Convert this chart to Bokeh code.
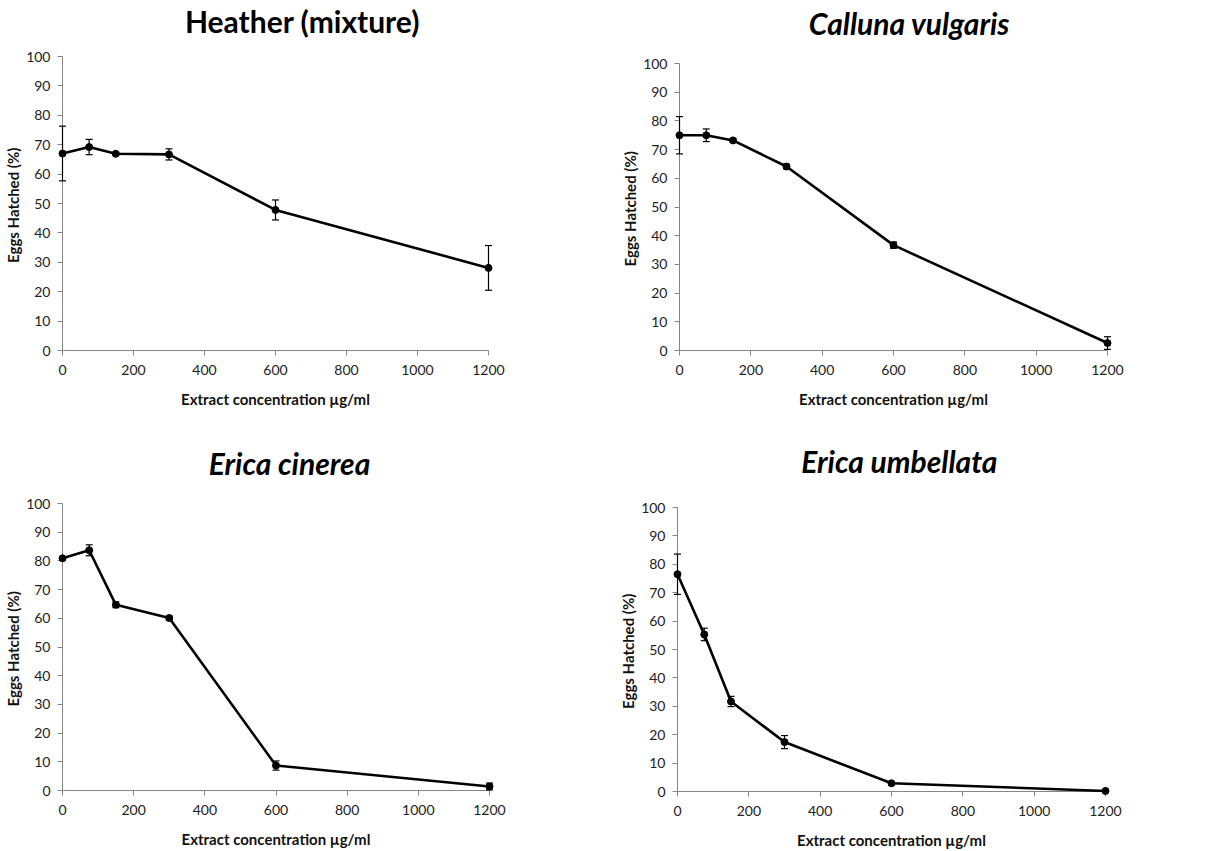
from bokeh.plotting import figure
from bokeh.layouts import column, row
from bokeh.models import Range1d, FixedTicker, ColumnDataSource
from bokeh.core.properties import value
from bokeh.embed import file_html
from bokeh.resources import INLINE

conc = [0, 75, 150, 300, 600, 1200]

titles = ["Heather (mixture)", "Calluna vulgaris", "Erica cinerea", "Erica umbellata"]
title_italic = [False, True, True, True]

heather = [67.0, 69.2, 66.9, 66.7, 47.8, 28.1]
heather_err = [9.3, 2.6, 0.5, 1.9, 3.4, 7.6]
calluna = [75.0, 75.0, 73.2, 64.1, 36.7, 2.6]
calluna_err = [6.5, 2.2, 0.5, 0.8, 1.1, 2.2]
cinerea = [80.9, 83.7, 64.7, 60.1, 8.7, 1.4]
cinerea_err = [0.5, 1.9, 1.0, 0.7, 1.6, 1.2]
umbellata = [76.5, 55.3, 31.7, 17.4, 2.9, 0.2]
umbellata_err = [7.1, 2.2, 1.8, 2.3, 0.6, 0.2]

x_ticks = [0, 200, 400, 600, 800, 1000, 1200]
y_ticks = [0, 10, 20, 30, 40, 50, 60, 70, 80, 90, 100]
x_label = "Extract concentration µg/ml"
y_label = "Eggs Hatched  (%)"

FONT = "Lato"
AXIS_COL = "#868686"

# (width, height, left, right, top, bottom, title_x_data, title_y_data)
layouts = [
    (607, 425, 62, 119, 56, 75, 676, 112.0),
    (607, 425, 72, 107, 63, 75, 645, 114.2),
    (607, 426, 62, 118, 78, 61, 638, 114.2),
    (607, 426, 70, 109, 82, 59, 622, 116.5),
]

series = [(heather, heather_err), (calluna, calluna_err),
          (cinerea, cinerea_err), (umbellata, umbellata_err)]


def make_panel(i):
    w, h, bl, br, bt, bb, tx, ty = layouts[i]
    vals, errs = series[i]
    p = figure(width=w, height=h, output_backend="svg", toolbar_location=None,
               x_range=Range1d(0, 1200), y_range=Range1d(0, 100),
               min_border_left=bl, min_border_right=br,
               min_border_top=bt, min_border_bottom=bb)
    p.outline_line_color = None
    p.xgrid.visible = False
    p.ygrid.visible = False
    p.background_fill_color = "white"
    p.border_fill_color = "white"

    for ax, ticks in ((p.xaxis[0], x_ticks), (p.yaxis[0], y_ticks)):
        ax.ticker = FixedTicker(ticks=ticks)
        ax.axis_line_color = AXIS_COL
        ax.major_tick_line_color = AXIS_COL
        ax.major_tick_out = 5
        ax.major_tick_in = 0
        ax.minor_tick_line_color = None
        ax.major_label_text_font = FONT
        ax.major_label_text_font_size = "14px"
        ax.major_label_text_color = "#222222"
        ax.axis_label_text_font = FONT
        ax.axis_label_text_font_style = "bold"
        ax.axis_label_text_font_size = "15px"
        ax.axis_label_text_color = "#111111"
    p.xaxis.axis_label = x_label
    p.yaxis.axis_label = y_label
    p.xaxis.major_label_standoff = 9
    p.xaxis.axis_label_standoff = 12
    p.yaxis.major_label_standoff = 7
    p.yaxis.axis_label_standoff = 1

    lo = [v - e for v, e in zip(vals, errs)]
    hi = [v + e for v, e in zip(vals, errs)]
    src = ColumnDataSource(dict(x=conc, y=vals, lo=lo, hi=hi))

    p.segment(x0="x", y0="lo", x1="x", y1="hi", source=src,
              line_color="black", line_width=1.2, level="overlay")
    p.scatter(x="x", y="hi", source=src, marker="dash", size=7,
              line_color="black", line_width=1.2, level="overlay")
    p.scatter(x="x", y="lo", source=src, marker="dash", size=7,
              line_color="black", line_width=1.2, level="overlay")
    p.line(x="x", y="y", source=src, line_color="black", line_width=2.6,
           level="overlay")
    p.scatter(x="x", y="y", source=src, marker="circle", size=7,
              fill_color="black", line_color="black", level="overlay")

    tsrc = ColumnDataSource(dict(x=[tx], y=[ty], t=[titles[i]]))
    p.text(x="x", y="y", text="t", source=tsrc, text_align="center",
           text_baseline="middle", text_font=value(FONT),
           text_font_size="30px",
           text_font_style="bold italic" if title_italic[i] else "bold",
           text_color="black", level="overlay")
    return p


panels = [make_panel(i) for i in range(4)]
layout = column(row(column(panels[0]), column(panels[1])),
                row(column(panels[2]), column(panels[3])))

open("out.html", "w").write(file_html(layout, INLINE))
